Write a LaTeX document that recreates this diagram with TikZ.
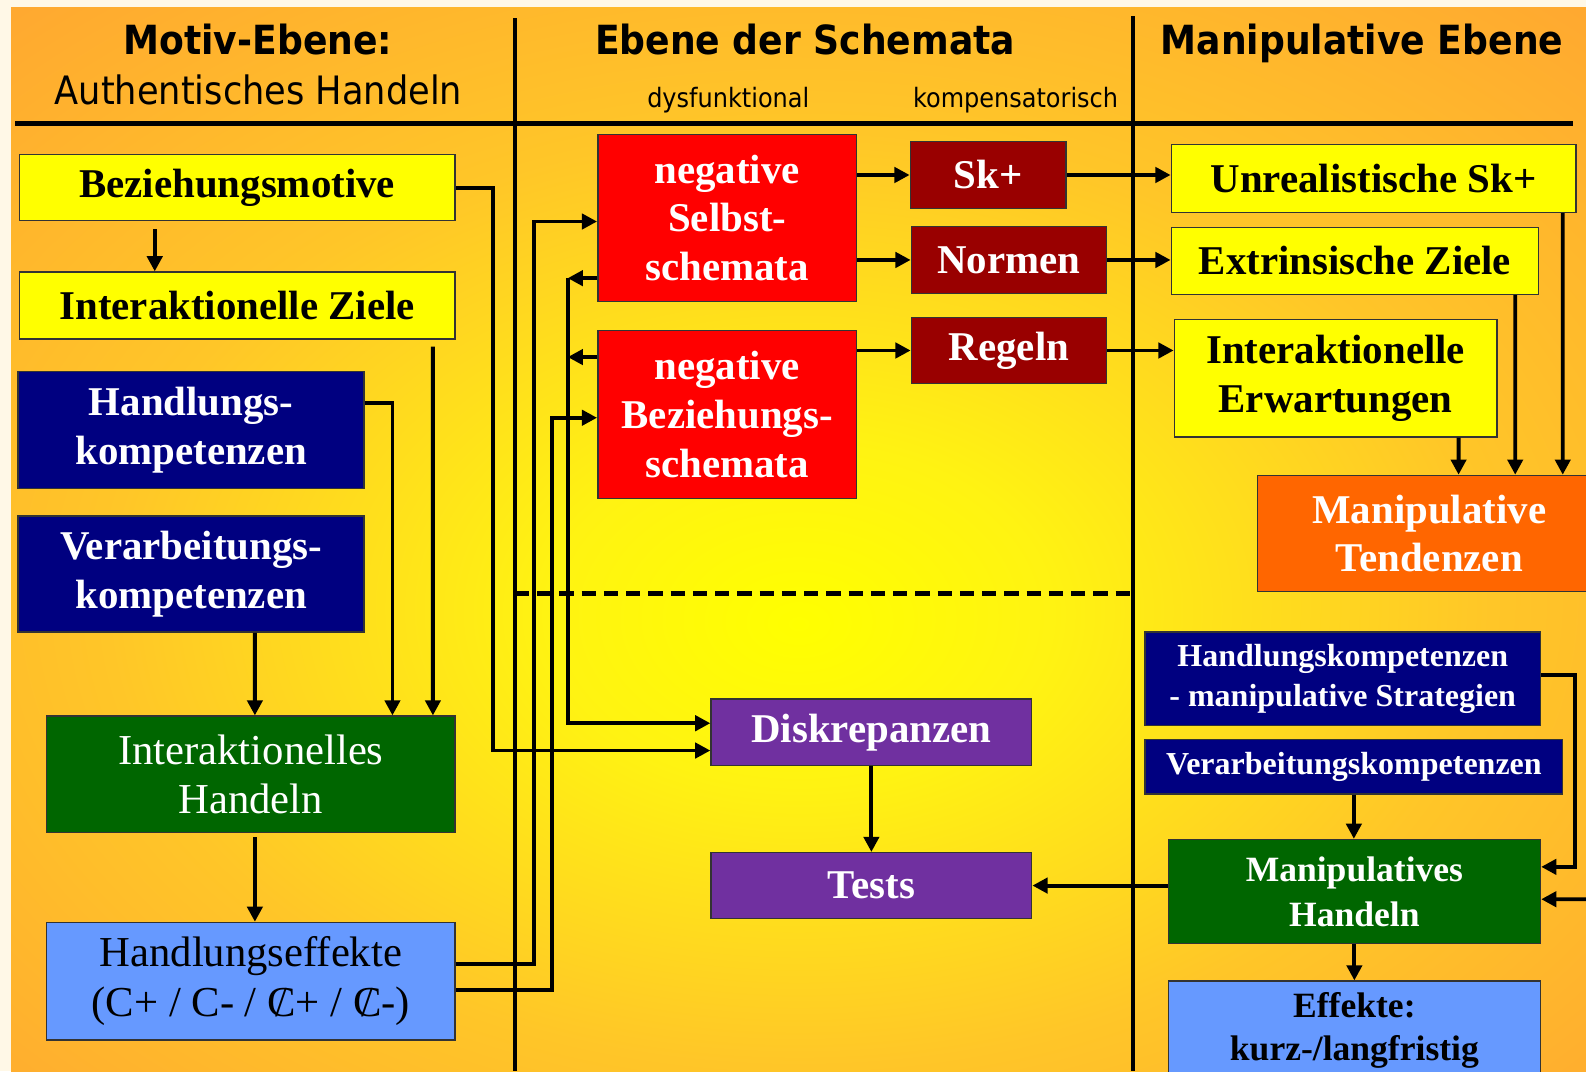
\documentclass[tikz,border=0pt]{standalone}
\usepackage{fontspec}
\setmainfont{Liberation Serif}
\newfontfamily\kopf[FakeStretch=0.9]{DejaVu Sans}
\usetikzlibrary{arrows.meta}

\definecolor{gelb}{HTML}{FFFF00}
\definecolor{marine}{HTML}{000080}
\definecolor{gruen}{HTML}{006600}
\definecolor{hellblau}{HTML}{6699FF}
\definecolor{rot}{HTML}{FF0000}
\definecolor{dunkelrot}{HTML}{990000}
\definecolor{lila}{HTML}{7030A0}
\definecolor{orangebox}{HTML}{FF6600}
\definecolor{creme}{HTML}{FFF8E7}
\definecolor{hgelb}{HTML}{FFF312}
\definecolor{hmitte}{HTML}{FFC628}
\definecolor{hrand}{HTML}{FFA232}
\definecolor{hecke}{HTML}{FF9933}

\pgfdeclareradialshading{hintergrund}{\pgfpoint{0bp}{-4bp}}{%
color(0bp)=(gelb); color(8bp)=(hgelb); color(22bp)=(hmitte);
color(40bp)=(hrand); color(72bp)=(hecke)}

\newcommand{\Cquer}{\ooalign{C\cr\hidewidth/\hidewidth\cr}}

\begin{document}
\begin{tikzpicture}[
kasten/.style={draw=black!80, line width=0.8pt, inner sep=0pt, align=center,
	font=\fontsize{23}{27.5}\selectfont\bfseries},
weiss/.style={text=white},
klein/.style={font=\fontsize{18}{22.7}\selectfont\bfseries},
pfeil/.style={line width=2.2pt, -{Triangle[length=0.3cm, width=0.3cm]}},
linie/.style={line width=2.6pt}
]
\useasboundingbox (0, 0) rectangle (31.36, -21.18);
\clip (0, 0) rectangle (31.36, -21.18);
\fill[creme] (0, 0) rectangle (31.36, -21.18);
\shade[shading=hintergrund] (0.22, -0.14) rectangle (31.36, -21.18);

% Ebenen
\node[anchor=base, font=\kopf\bfseries\fontsize{22.6}{26}\selectfont] (motiv) at (5.10, -1.08) {Motiv-Ebene:};
\node[anchor=base, font=\kopf\fontsize{22}{26}\selectfont] (auth) at (5.11, -2.06) {Authentisches Handeln};
\node[anchor=base, font=\kopf\bfseries\fontsize{22.6}{26}\selectfont] (schemata) at (15.92, -1.08) {Ebene der Schemata};
\node[anchor=base, font=\kopf\fontsize{15}{18}\selectfont] (dysf) at (14.40, -2.12) {dysfunktional};
\node[anchor=base, font=\kopf\fontsize{15}{18}\selectfont] (komp) at (20.08, -2.12) {kompensatorisch};
\node[anchor=base, font=\kopf\bfseries\fontsize{22.6}{26}\selectfont] (manip) at (26.93, -1.08) {Manipulative Ebene};

\draw[linie] (0.30, -2.44) -- (31.10, -2.44);
\draw[linie] (10.18, -0.36) -- (10.18, -21.18);
\draw[linie] (22.40, -0.32) -- (22.40, -21.18);
\draw[linie, dash pattern=on 0.28cm off 0.16cm] (10.18, -11.74) -- (22.40, -11.74);

% Motiv-Ebene
\node[kasten, fill=gelb, minimum width=8.62cm, minimum height=1.30cm] (bm) at (4.69, -3.71) {Beziehungsmotive};
\node[kasten, fill=gelb, minimum width=8.62cm, minimum height=1.32cm] (iz) at (4.69, -6.04) {Interaktionelle Ziele};
\node[kasten, weiss, fill=marine, minimum width=6.84cm, minimum height=2.32cm] (hk) at (3.78, -8.50) {Handlungs-\\kompetenzen};
\node[kasten, weiss, fill=marine, minimum width=6.84cm, minimum height=2.30cm] (vk) at (3.78, -11.35) {Verarbeitungs-\\kompetenzen};
\node[kasten, weiss, fill=gruen, minimum width=8.08cm, minimum height=2.30cm,
	font=\fontsize{24}{28}\selectfont] (ih) at (4.96, -15.31) {Interaktionelles\\Handeln};
\node[kasten, fill=hellblau, minimum width=8.08cm, minimum height=2.32cm,
	font=\fontsize{24}{28}\selectfont] (he) at (4.96, -19.40) {Handlungseffekte\\(C+ / C- / \Cquer+ / \Cquer-)};

% Schemata
\node[kasten, weiss, fill=rot, minimum width=5.12cm, minimum height=3.30cm] (ss) at (14.38, -4.31) {negative\\Selbst-\\schemata};
\node[kasten, weiss, fill=rot, minimum width=5.12cm, minimum height=3.32cm] (bs) at (14.38, -8.20) {negative\\Beziehungs-\\schemata};
\node[kasten, weiss, fill=dunkelrot, minimum width=3.08cm, minimum height=1.32cm] (sk) at (19.54, -3.46) {Sk+};
\node[kasten, weiss, fill=dunkelrot, minimum width=3.86cm, minimum height=1.32cm] (nm) at (19.95, -5.14) {Normen};
\node[kasten, weiss, fill=dunkelrot, minimum width=3.86cm, minimum height=1.30cm] (rg) at (19.95, -6.93) {Regeln};
\node[kasten, weiss, fill=lila, minimum width=6.34cm, minimum height=1.32cm] (dk) at (17.23, -14.48) {Diskrepanzen};
\node[kasten, weiss, fill=lila, minimum width=6.34cm, minimum height=1.30cm] (ts) at (17.23, -17.51) {Tests};

% Manipulative Ebene
\node[kasten, fill=gelb, minimum width=8.00cm, minimum height=1.34cm] (us) at (27.16, -3.53) {Unrealistische Sk+};
\node[kasten, fill=gelb, minimum width=7.26cm, minimum height=1.32cm] (ez) at (26.79, -5.16) {Extrinsische Ziele};
\node[kasten, fill=gelb, minimum width=6.38cm, minimum height=2.32cm] (ie) at (26.41, -7.48) {Interaktionelle\\Erwartungen};
\node[kasten, weiss, fill=orangebox, minimum width=6.80cm, minimum height=2.30cm] (mt) at (28.26, -10.55) {Manipulative\\Tendenzen};
\node[kasten, klein, weiss, fill=marine, minimum width=7.82cm, minimum height=1.84cm] (hm) at (26.55, -13.42) {Handlungskompetenzen\\- manipulative Strategien};
\node[kasten, klein, weiss, fill=marine, minimum width=8.26cm, minimum height=1.08cm] (vm) at (26.77, -15.16) {Verarbeitungskompetenzen};
\node[kasten, weiss, fill=gruen, minimum width=7.36cm, minimum height=2.06cm,
	font=\fontsize{20}{25}\selectfont\bfseries] (mh) at (26.78, -17.63) {Manipulatives\\Handeln};
\node[kasten, fill=hellblau, minimum width=7.36cm, minimum height=1.94cm,
	font=\fontsize{20}{24.5}\selectfont\bfseries] (ef) at (26.78, -20.37) {Effekte:\\kurz-/langfristig};

% Pfeile links
\draw[pfeil] ([xshift=-1.63cm, yshift=-0.16cm]bm.south) -- ([xshift=-1.63cm]iz.north);
\draw[pfeil] ([xshift=3.87cm, yshift=-0.14cm]iz.south) -- ([xshift=3.60cm]ih.north);
\draw[pfeil] ([yshift=0.54cm]hk.east) -| ([xshift=2.80cm]ih.north);
\draw[pfeil] ([xshift=1.26cm]vk.south) -- ([xshift=0.08cm]ih.north);
\draw[pfeil] ([xshift=0.08cm, yshift=-0.08cm]ih.south) -- ([xshift=0.08cm]he.north);
\draw[pfeil] (bm.east) -- ++(0.74, 0) |- ([yshift=-0.36cm]dk.west);
\draw[pfeil] ([yshift=0.34cm]he.east) -- ++(1.54, 0) |- ([yshift=-0.07cm]ss.west);
\draw[pfeil] ([yshift=-0.18cm]he.east) -- ++(1.90, 0) |- ([yshift=-0.06cm]bs.west);
\draw[pfeil] ([yshift=-1.19cm]ss.west) -- ++(-0.58, 0) coordinate (bus);
\draw[pfeil] ([yshift=1.14cm]bs.west) -- ++(-0.58, 0);
\draw[pfeil] (bus) |- ([yshift=0.18cm]dk.west);

% Pfeile Mitte
\draw[pfeil] (ss.east |- sk.west) -- (sk.west);
\draw[pfeil] (ss.east |- nm.west) -- (nm.west);
\draw[pfeil] (bs.east |- rg.west) -- (rg.west);
\draw[pfeil] (sk.east) -- (us.west |- sk.east);
\draw[pfeil] (nm.east) -- (ez.west |- nm.east);
\draw[pfeil] (rg.east) -- (ie.west |- rg.east);
\draw[pfeil] (dk.south) -- (ts.north);

% Pfeile rechts
\draw[pfeil] ([xshift=2.43cm]ie.south) -- ([xshift=0.58cm]mt.north);
\draw[pfeil] ([xshift=3.17cm]ez.south) -- ([xshift=1.70cm]mt.north);
\draw[pfeil] ([xshift=3.74cm]us.south) -- ([xshift=2.64cm]mt.north);
\draw[pfeil] (vm.south) -- (vm.south |- mh.north);
\draw[pfeil] ([yshift=0.08cm]hm.east) -- ++(0.66, 0) |- ([yshift=0.49cm]mh.east);
\coordinate (rechts) at (31.50, -17.78);
\draw[pfeil] (rechts) -- ([yshift=-0.15cm]mh.east);
\draw[pfeil] (mh.west |- ts.east) -- (ts.east);
\draw[pfeil] (mh.south) -- (mh.south |- ef.north);
\end{tikzpicture}
\end{document}
